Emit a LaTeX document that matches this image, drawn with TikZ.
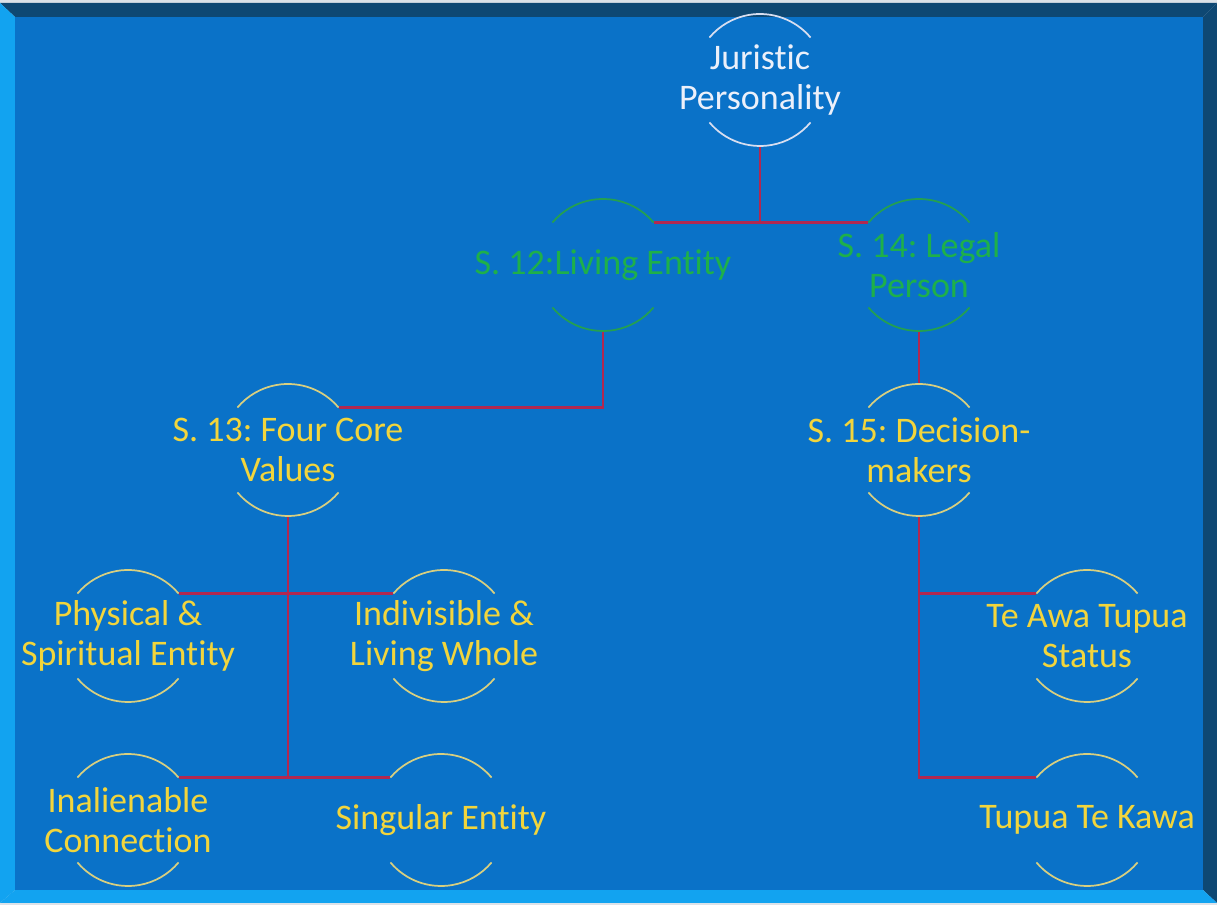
\documentclass[tikz,border=0pt]{standalone}
\usepackage{fontspec}
\setmainfont{Carlito}[Ligatures=NoCommon]
\frenchspacing
\definecolor{face}{RGB}{10,114,200}
\definecolor{bevellight}{RGB}{18,163,240}
\definecolor{beveldark}{RGB}{14,72,115}
\definecolor{rim}{RGB}{220,226,232}
\definecolor{linkred}{RGB}{178,40,80}
\definecolor{roottext}{RGB}{236,240,250}
\definecolor{rootarc}{RGB}{215,222,240}
\definecolor{sectgreen}{RGB}{30,176,74}
\definecolor{sectarc}{RGB}{36,160,80}
\definecolor{valyellow}{RGB}{242,213,60}
\definecolor{valarc}{RGB}{216,207,128}
\tikzset{ring/.style={circle,minimum size=99pt,inner sep=0pt,outer sep=0pt},
 rootnode/.style={ring,label={[text=roottext]center:{#1}}},
 sectnode/.style={ring,label={[text=sectgreen]center:{#1}}},
 valnode/.style={ring,label={[text=valyellow]center:{#1}}},
 link/.style={linkred,line width=1.8pt},
 every label/.style={font=\fontsize{27}{30}\selectfont,align=center,inner sep=0pt}}
% top and bottom arcs of a ring
\newcommand{\ringarcs}[2]{\draw[#2,line width=1.3pt] (#1.40) arc[start angle=40,end angle=140,radius=66]
 (#1.220) arc[start angle=220,end angle=320,radius=66];}

\begin{document}
\begin{tikzpicture}[x=0.75pt,y=0.75pt]
\useasboundingbox (0,0) rectangle (1217,905);
% frame
\fill[rim] (0,0) rectangle (1217,905);
\fill[beveldark] (0,902)--(1217,902)--(1203,888)--(15,888)--cycle;
\fill[beveldark] (1217,902)--(1217,2)--(1203,15)--(1203,888)--cycle;
\fill[bevellight] (0,2)--(0,902)--(15,888)--(15,15)--cycle;
\fill[bevellight] (0,2)--(1217,2)--(1203,15)--(15,15)--cycle;
\fill[face] (15,15) rectangle (1203,888);

\node[rootnode={Juristic\\Personality}] (jur) at (760,825) {};
\node[sectnode={S. 12:Living Entity}] (s12) at (603,640) {};
\node[sectnode={S. 14: Legal\\Person}] (s14) at (919,640) {};
\node[valnode={S. 13: Four Core\\Values}] (s13) at (288,455) {};
\node[valnode={S. 15: Decision-\\makers}] (s15) at (919,455) {};
\node[valnode={Physical \&\\Spiritual Entity}] (phys) at (128,269) {};
\node[valnode={Indivisible \&\\Living Whole}] (indiv) at (444,269) {};
\node[valnode={Inalienable\\Connection}] (inal) at (128,85) {};
\node[valnode={Singular Entity}] (sing) at (441,85) {};
\node[valnode={Te Awa Tupua\\Status}] (teawa) at (1087,269) {};
\node[valnode={Tupua Te Kawa}] (kawa) at (1087,85) {};

\draw[link] (jur.south) -- (jur.south |- s12.40);
\draw[link] (s12.40) -- (s14.140);
\draw[link] (s12.south) |- (s13.40);
\draw[link] (s14.south) -- (s15.north);
\draw[link] (s13.south) -- (s13.south |- inal.40);
\draw[link] (phys.40) -- (indiv.140);
\draw[link] (inal.40) -- (sing.140);
\draw[link] (s15.south) |- (teawa.140);
\draw[link] (s15.south) |- (kawa.140);

\ringarcs{jur}{rootarc}
\ringarcs{s12}{sectarc}
\ringarcs{s14}{sectarc}
\foreach \n in {s13,s15,phys,indiv,inal,sing,teawa,kawa}
 {\ringarcs{\n}{valarc}}
\end{tikzpicture}
\end{document}
